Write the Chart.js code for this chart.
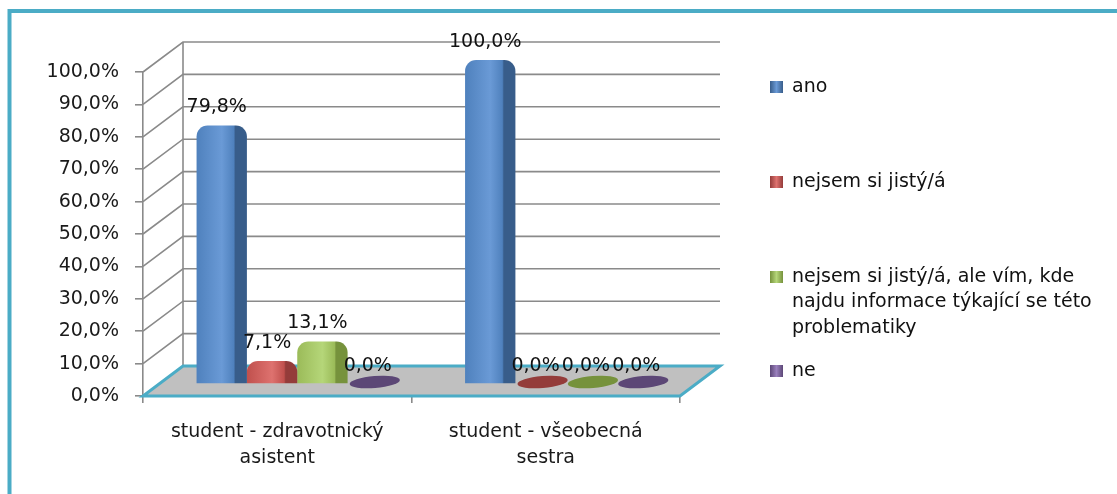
<!DOCTYPE html>
<html>
<head>
<meta charset="utf-8">
<script src="https://cdn.jsdelivr.net/npm/chart.js@4/dist/chart.umd.min.js"></script>
<style>
  body { margin: 0; background: #fff; }
  #wrap { width: 1117px; height: 494px; }
</style>
</head>
<body>
<div id="wrap"><canvas id="graphCanvas" width="1117" height="494"></canvas></div>
<script>
// odpovědi podle typu studenta
var kategorie = [['student - zdravotnický', 'asistent'], ['student - všeobecná', 'sestra']];
var nazvyRad = ['ano', 'nejsem si jistý/á', 'nejsem si jistý/á, ale vím, kde najdu informace týkající se této problematiky', 'ne'];
var legendaRadky = [
    ['ano'],
    ['nejsem si jistý/á'],
    ['nejsem si jistý/á, ale vím, kde', 'najdu informace týkající se této', 'problematiky'],
    ['ne']
];
var ano = [79.8, 100.0];
var nejsem = [7.1, 0.0];
var nejsemAleVim = [13.1, 0.0];
var ne = [0.0, 0.0];
var osaY = [0, 10, 20, 30, 40, 50, 60, 70, 80, 90, 100];

var barvy = ['#4f81bd', '#c0504d', '#9bbb59', '#8064a2'];
var svetle = ['#6a9ad6', '#de726f', '#b5d679', '#9a80bd'];
var tmave = ['#385d8a', '#943c3a', '#76923c', '#5c4776'];

var FONT = 'DejaVu Sans';
var HLOUBKA_X = 40, HLOUBKA_Y = -30;   // posun zadní stěny
var SLOUPCE_X = 20, SLOUPCE_Y = -12;   // sloupce stojí uprostřed podlahy
var KAT_PCT = 0.75;

function procenta(v) {
    return v.toFixed(1).replace('.', ',') + '%';
}

// přechod přes šířku sloupce, aby vypadal trojrozměrně
function vyplnSloupce(ctx) {
    var chart = ctx.chart;
    var i = ctx.datasetIndex;
    if (!chart.chartArea || !chart.scales.x) return barvy[i];
    var x = chart.scales.x;
    var stred = x.getPixelForValue(ctx.dataIndex);
    var skupina = x.width / kategorie.length * KAT_PCT;
    var sirka = skupina / nazvyRad.length;
    var vlevo = stred - skupina / 2 + i * sirka;
    var g = chart.ctx.createLinearGradient(vlevo, 0, vlevo + sirka, 0);
    g.addColorStop(0, barvy[i]);
    g.addColorStop(0.5, svetle[i]);
    g.addColorStop(0.74, barvy[i]);
    g.addColorStop(0.77, tmave[i]);
    g.addColorStop(1, tmave[i]);
    return g;
}

var ram = {
    id: 'ram',
    beforeDraw: function (chart) {
        var c = chart.ctx;
        c.save();
        c.strokeStyle = '#4bacc6';
        c.lineWidth = 4;
        c.strokeRect(9.5, 11, 1300, 700);
        c.restore();
    }
};

var prostor = {
    id: 'prostor',
    beforeDatasetsDraw: function (chart) {
        var c = chart.ctx;
        var a = chart.chartArea;
        var y = chart.scales.y;
        c.save();
        // zadní stěna a šikmé čáry od osy
        c.strokeStyle = '#8a8a8a';
        c.lineWidth = 1.6;
        osaY.forEach(function (v) {
            if (v === 0) return;
            var py = y.getPixelForValue(v);
            c.beginPath();
            c.moveTo(a.left, py);
            c.lineTo(a.left + HLOUBKA_X, py + HLOUBKA_Y);
            c.lineTo(a.right + HLOUBKA_X, py + HLOUBKA_Y);
            c.stroke();
        });
        c.beginPath();
        c.moveTo(a.left + HLOUBKA_X, y.getPixelForValue(100) + HLOUBKA_Y);
        c.lineTo(a.left + HLOUBKA_X, a.bottom + HLOUBKA_Y);
        c.stroke();
        // podlaha
        c.beginPath();
        c.moveTo(a.left, a.bottom);
        c.lineTo(a.right, a.bottom);
        c.lineTo(a.right + HLOUBKA_X, a.bottom + HLOUBKA_Y);
        c.lineTo(a.left + HLOUBKA_X, a.bottom + HLOUBKA_Y);
        c.closePath();
        c.fillStyle = '#c0c0c0';
        c.fill();
        c.strokeStyle = '#4bacc6';
        c.lineWidth = 3;
        c.stroke();
        c.restore();

        c.save();
        c.translate(SLOUPCE_X, SLOUPCE_Y);
    },
    afterDatasetsDraw: function (chart) {
        var c = chart.ctx;
        chart.data.datasets.forEach(function (ds, i) {
            var meta = chart.getDatasetMeta(i);
            meta.data.forEach(function (el, j) {
                if (ds.data[j] === 0) {
                    c.beginPath();
                    c.ellipse(el.x + 2, el.y - 2, el.width / 2, 6, -0.08, 0, Math.PI * 2);
                    c.fillStyle = tmave[i];
                    c.fill();
                }
            });
        });
        c.fillStyle = '#111';
        c.font = '19px "' + FONT + '"';
        c.textAlign = 'center';
        c.textBaseline = 'middle';
        chart.data.datasets.forEach(function (ds, i) {
            var meta = chart.getDatasetMeta(i);
            meta.data.forEach(function (el, j) {
                c.fillText(procenta(ds.data[j]), el.x - 5, el.y - 18);
            });
        });
        c.restore();
    }
};

var legenda = {
    id: 'legenda',
    afterDraw: function (chart) {
        var c = chart.ctx;
        var pozice = [87, 182, 277, 371];
        c.save();
        c.font = '19px "' + FONT + '"';
        c.textBaseline = 'middle';
        c.textAlign = 'left';
        legendaRadky.forEach(function (radky, i) {
            var py = pozice[i];
            var g = c.createLinearGradient(770, 0, 783, 0);
            g.addColorStop(0, tmave[i]);
            g.addColorStop(0.5, svetle[i]);
            g.addColorStop(1, tmave[i]);
            c.fillStyle = g;
            c.fillRect(770, py - 6, 13, 12);
            c.fillStyle = '#111';
            radky.forEach(function (t, k) {
                c.fillText(t, 792, py + k * 25.5);
            });
        });
        c.restore();
    }
};

var rady = [ano, nejsem, nejsemAleVim, ne].map(function (d, i) {
    return {
        label: nazvyRad[i],
        data: d,
        backgroundColor: vyplnSloupce,
        borderRadius: { topLeft: 11, topRight: 11, bottomLeft: 0, bottomRight: 0 },
        borderSkipped: 'bottom',
        categoryPercentage: KAT_PCT,
        barPercentage: 1.0,
        clip: false
    };
});

new Chart(document.getElementById('graphCanvas'), {
    type: 'bar',
    data: { labels: kategorie, datasets: rady },
    options: {
        responsive: false,
        animation: false,
        layout: { padding: { left: 0, top: 72, right: 437, bottom: 0 } },
        plugins: {
            legend: { display: false },
            tooltip: { enabled: false }
        },
        scales: {
            x: {
                afterFit: function (s) { s.height = 98; },
                border: { display: false },
                grid: {
                    offset: true,
                    drawOnChartArea: false,
                    drawTicks: true,
                    tickLength: 7,
                    color: '#8a8a8a',
                    lineWidth: 1.6
                },
                ticks: {
                    color: '#1a1a1a',
                    padding: 16,
                    maxRotation: 0,
                    font: { family: FONT, size: 19, lineHeight: 1.37 }
                }
            },
            y: {
                min: 0,
                max: 100,
                afterFit: function (s) { s.width = 143; },
                afterBuildTicks: function (s) {
                    s.ticks = osaY.map(function (v) { return { value: v }; });
                },
                border: { display: true, color: '#8a8a8a', width: 1.6 },
                grid: {
                    drawOnChartArea: false,
                    drawTicks: true,
                    tickLength: 8,
                    color: '#8a8a8a',
                    lineWidth: 1.6
                },
                ticks: {
                    color: '#1a1a1a',
                    padding: 16,
                    font: { family: FONT, size: 19 },
                    callback: function (v) { return procenta(v); }
                }
            }
        }
    },
    plugins: [ram, prostor, legenda]
});
</script>
</body>
</html>
